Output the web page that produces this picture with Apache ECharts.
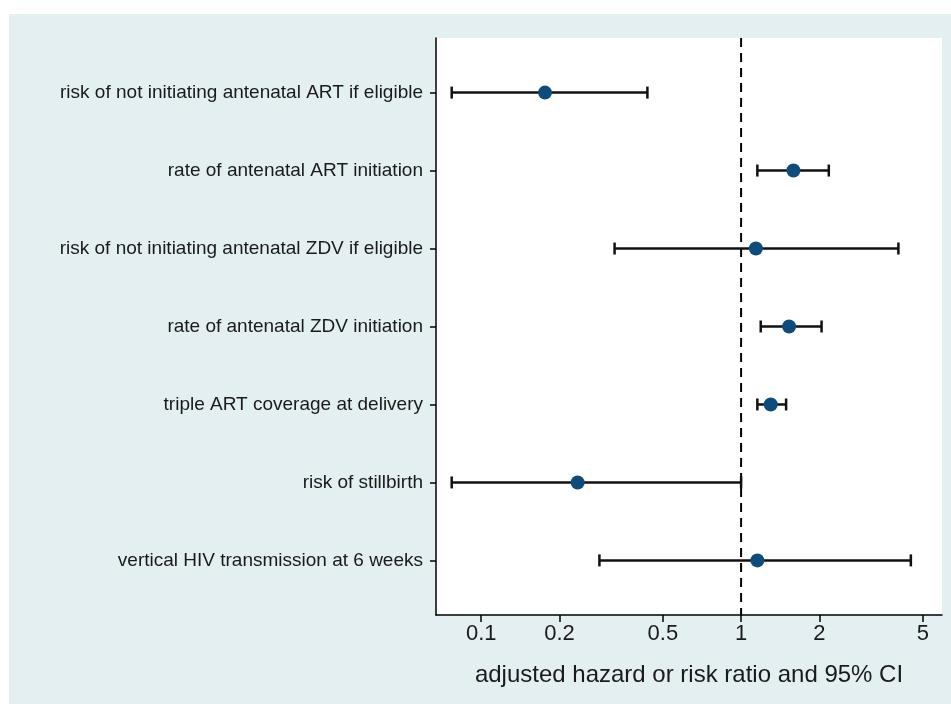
<!DOCTYPE html>
<html>
<head>
<meta charset="utf-8">
<script src="https://cdn.jsdelivr.net/npm/echarts@6/dist/echarts.min.js"></script>
<style>
html,body{margin:0;padding:0;background:#ffffff;}
#wrap{position:absolute;left:9px;top:14px;width:942px;height:690px;background:#e4eff1;}
#chart{position:absolute;left:0;top:0;width:951px;height:704px;}
</style>
</head>
<body>
<div id="wrap"></div>
<div id="chart"></div>
<script>
const categories = [
  "risk of not initiating antenatal ART if eligible",
  "rate of antenatal ART initiation",
  "risk of not initiating antenatal ZDV if eligible",
  "rate of antenatal ZDV initiation",
  "triple ART coverage at delivery",
  "risk of stillbirth",
  "vertical HIV transmission at 6 weeks"
];
const estimates = [0.176, 1.59, 1.14, 1.53, 1.30, 0.235, 1.155];
const lowerCI   = [0.077, 1.155, 0.326, 1.19, 1.155, 0.077, 0.285];
const upperCI   = [0.436, 2.175, 4.03, 2.04, 1.49, 1.00, 4.5];
const xTicks = [0.1, 0.2, 0.5, 1, 2, 5];
const xMin = 0.067, xMax = 5.93;
const refValue = 1;

const L = Math.log10;
const rows = categories.map((c, i) => i + 1);
const pointData = estimates.map((v, i) => [L(v), rows[i]]);
const ciData = estimates.map((v, i) => [L(lowerCI[i]), L(upperCI[i]), rows[i]]);

const chart = echarts.init(document.getElementById('chart'), null, {renderer: 'canvas'});
const font = '"Liberation Sans", Arial, Helvetica, sans-serif';

chart.setOption({
  backgroundColor: 'transparent',
  animation: false,
  grid: {left: 436, right: 9, top: 38, bottom: 89, backgroundColor: '#ffffff', show: true, borderWidth: 0},
  xAxis: {
    type: 'value',
    min: L(xMin), max: L(xMax),
    splitLine: {show: false},
    axisLine: {show: true, onZero: false, lineStyle: {color: '#000', width: 1.5}},
    axisTick: {show: true, length: 7, lineStyle: {color: '#000', width: 1.5}, customValues: xTicks.map(L)},
    axisLabel: {
      customValues: xTicks.map(L),
      formatter: v => { const r = Math.pow(10, v); return String(Math.round(r * 10) / 10); },
      fontFamily: font, fontSize: 22, color: '#1a1a1a', margin: 8
    },
    name: 'adjusted hazard or risk ratio and 95% CI',
    nameLocation: 'middle', nameGap: 48,
    nameTextStyle: {fontFamily: font, fontSize: 24, color: '#1a1a1a'}
  },
  yAxis: {
    type: 'value',
    min: 0.3, max: 7.7, inverse: true,
    splitLine: {show: false},
    axisLine: {show: true, onZero: false, lineStyle: {color: '#000', width: 1.5}},
    axisTick: {show: true, length: 6, lineStyle: {color: '#000', width: 1.5}, customValues: rows},
    axisLabel: {
      customValues: rows,
      formatter: v => categories[Math.round(v) - 1] || '',
      fontFamily: font, fontSize: 19, color: '#1a1a1a', margin: 13
    }
  },
  series: [
    {
      type: 'line',
      data: [[L(refValue), 0.3], [L(refValue), 7.7]],
      symbol: 'none',
      lineStyle: {color: '#000', width: 2, type: [9, 6]},
      z: 1
    },
    {
      type: 'custom',
      data: ciData,
      z: 2,
      renderItem: function (params, api) {
        const p1 = api.coord([api.value(0), api.value(2)]);
        const p2 = api.coord([api.value(1), api.value(2)]);
        const h = 6;
        const st = {stroke: '#111', lineWidth: 2.5};
        return {
          type: 'group',
          children: [
            {type: 'line', shape: {x1: p1[0], y1: p1[1], x2: p2[0], y2: p2[1]}, style: st},
            {type: 'line', shape: {x1: p1[0], y1: p1[1] - h, x2: p1[0], y2: p1[1] + h}, style: st},
            {type: 'line', shape: {x1: p2[0], y1: p2[1] - h, x2: p2[0], y2: p2[1] + h}, style: st}
          ]
        };
      }
    },
    {
      type: 'scatter',
      data: pointData,
      symbol: 'circle',
      symbolSize: 14,
      itemStyle: {color: '#0f4c7c', opacity: 1},
      z: 3
    }
  ]
});
</script>
</body>
</html>
